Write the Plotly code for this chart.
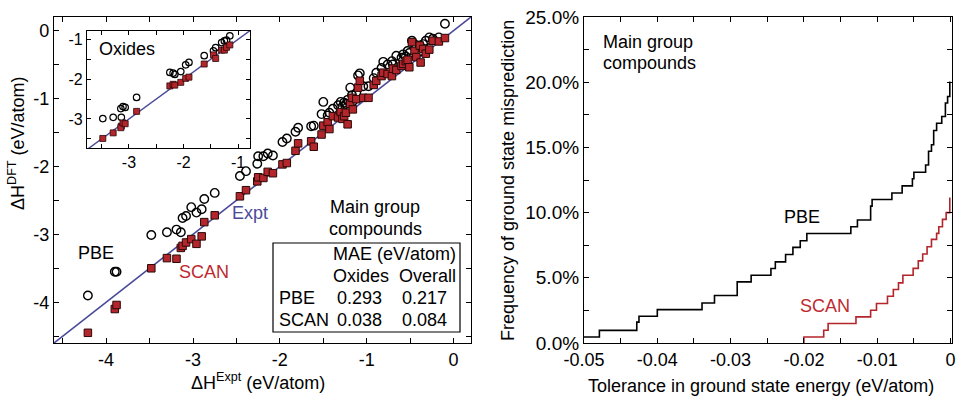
import plotly.graph_objects as go

# ---------------- data ----------------
# Main group compounds: experimental vs DFT formation enthalpy (eV/atom)
expt = [-4.21, -3.90, -3.88, -3.48, -3.30, -3.19, -3.14, -3.12, -3.08, -3.02,
        -2.96, -2.90, -2.87, -2.75, -2.46, -2.39, -2.26, -2.25, -2.19, -2.14,
        -2.08, -1.97, -1.92, -1.82, -1.79, -1.64, -1.61, -1.52, -1.50, -1.45,
        -1.43, -1.39, -1.33, -1.30, -1.28, -1.26, -1.24, -1.22, -1.19, -1.17,
        -1.16, -1.12, -1.10, -1.08, -1.04, -0.98, -0.92, -0.89, -0.83, -0.81,
        -0.76, -0.71, -0.70, -0.66, -0.60, -0.58, -0.55, -0.53, -0.51, -0.48,
        -0.45, -0.43, -0.39, -0.38, -0.35, -0.32, -0.28, -0.24, -0.17, -0.10]
pbe = [-3.90, -3.55, -3.55, -3.01, -2.97, -2.93, -2.97, -2.76, -2.73, -2.60,
       -2.68, -2.63, -2.48, -2.39, -2.14, -2.07, -1.96, -1.85, -1.85, -1.81,
       -1.84, -1.64, -1.59, -1.49, -1.43, -1.41, -1.40, -1.23, -1.05, -1.25,
       -1.21, -1.15, -1.10, -1.05, -1.12, -1.06, -1.08, -1.02, -0.84, -0.95,
       -1.04, -0.92, -0.66, -0.63, -0.82, -0.82, -0.70, -0.62, -0.55, -0.46,
       -0.50, -0.45, -0.50, -0.37, -0.40, -0.35, -0.38, -0.30, -0.33, -0.15,
       -0.20, -0.25, -0.22, -0.30, -0.20, -0.15, -0.10, -0.12, -0.10, 0.10]
scan = [-4.45, -4.10, -4.04, -3.50, -3.35, -3.36, -3.20, -3.17, -3.12, -3.07,
        -3.14, -3.03, -2.82, -2.72, -2.44, -2.35, -2.22, -2.16, -2.17, -2.08,
        -2.10, -1.97, -1.95, -1.77, -1.66, -1.63, -1.71, -1.53, -1.40, -1.35,
        -1.45, -1.26, -1.28, -1.20, -1.30, -1.26, -1.21, -1.38, -1.08, -0.99,
        -1.16, -1.01, -0.84, -0.74, -0.99, -0.99, -0.80, -0.74, -0.67, -0.62,
        -0.64, -0.67, -0.56, -0.58, -0.52, -0.49, -0.45, -0.43, -0.54, -0.17,
        -0.30, -0.39, -0.22, -0.47, -0.27, -0.34, -0.28, -0.15, -0.16, -0.11]

# Oxides (inset)
ox_expt = [-3.48, -3.29, -3.14, -3.15, -3.11, -3.07, -2.86, -2.25, -2.19, -2.16,
           -2.05, -1.96, -1.90, -1.62, -1.45, -1.41, -1.30, -1.25, -1.21, -1.15]
ox_pbe = [-2.99, -2.96, -2.96, -2.74, -2.69, -2.71, -2.46, -1.83, -1.85, -1.88,
          -1.81, -1.64, -1.58, -1.41, -1.29, -1.21, -1.08, -1.04, -1.02, -0.91]
ox_scan = [-3.49, -3.35, -3.18, -3.22, -3.10, -3.12, -2.81, -2.17, -2.13, -2.15,
           -2.08, -1.98, -1.95, -1.62, -1.39, -1.48, -1.27, -1.27, -1.20, -1.14]

# Expt parity line (y = x)
parity = [-5.0, 1.0]

# MAE table
mae_methods = ["PBE", "SCAN"]
mae_oxides = ["0.293", "0.038"]
mae_overall = ["0.217", "0.084"]

# Ground state misprediction frequency (%) vs tolerance (eV/atom)
pbe_tol = [-0.0500, -0.0479, -0.0428, -0.0425, -0.0400, -0.0339, -0.0322, -0.0291,
           -0.0272, -0.0245, -0.0239, -0.0225, -0.0215, -0.0205, -0.0196, -0.0136,
           -0.0127, -0.0109, -0.0107, -0.0080, -0.0066, -0.0052, -0.0050, -0.0034,
           -0.0030, -0.0026, -0.0023, -0.0019, -0.0012, -0.0007, -0.0004, -0.0001, 0.0]
pbe_freq = [0.46, 0.97, 1.6, 2.05, 2.56, 3.07, 3.64, 4.69,
            5.2, 5.71, 6.22, 6.79, 7.33, 7.84, 8.40, 8.91,
            9.43, 10.5, 11.0, 11.5, 12.05, 12.6, 13.1, 13.65,
            14.7, 15.2, 16.3, 16.85, 17.37, 18.4, 18.9, 20.0, 20.0]
scan_tol = [-0.0200, -0.0200, -0.0173, -0.0167, -0.0129, -0.0109, -0.0101, -0.0086,
            -0.0078, -0.0071, -0.0065, -0.0051, -0.0044, -0.0038, -0.0032, -0.0026,
            -0.0019, -0.0016, -0.0011, -0.0006, -0.0001, 0.0]
scan_freq = [0.0, 0.46, 0.98, 1.49, 2.0, 2.51, 3.03, 3.59,
             4.10, 4.61, 5.20, 5.72, 6.30, 6.82, 7.38, 7.95,
             8.41, 8.92, 9.48, 10.0, 11.1, 11.1]

# tick labels (major) and minor tick positions
main_tickvals = [-4, -3, -2, -1, 0]
main_ticktext = ["-4", "-3", "-2", "-1", "0"]
main_minor = [-4.5, -3.5, -2.5, -1.5, -0.5]
inset_tickvals = [-3, -2, -1]
inset_ticktext = ["-3", "-2", "-1"]
inset_minor = [-3.5, -2.5, -1.5]
tol_tickvals = [-0.05, -0.04, -0.03, -0.02, -0.01, 0.0]
tol_ticktext = ["-0.05", "-0.04", "-0.03", "-0.02", "-0.01", "0"]
tol_minor = [-0.045, -0.035, -0.025, -0.015, -0.005]
freq_tickvals = [0, 5, 10, 15, 20, 25]
freq_ticktext = ["0.0%", "5.0%", "10.0%", "15.0%", "20.0%", "25.0%"]
freq_minor = [2.5, 7.5, 12.5, 17.5, 22.5]

# ---------------- style ----------------
FONT = "Arial, Liberation Sans, sans-serif"
RED = "#B3262B"
TEXT_RED = "#BE2A30"
BLUE = "#4A4A9A"
W, H = 966, 400


def px(xp):
    return xp / W


def py(yp):
    return 1 - yp / H


fig = go.Figure()

# main panel
fig.add_trace(go.Scatter(x=parity, y=parity, mode="lines", line=dict(color=BLUE, width=1.6),
                         xaxis="x", yaxis="y"))
fig.add_trace(go.Scatter(x=expt, y=pbe, mode="markers",
                         marker=dict(symbol="circle-open", size=8.5, color="black", line=dict(width=1.4)),
                         xaxis="x", yaxis="y"))
fig.add_trace(go.Scatter(x=expt, y=scan, mode="markers",
                         marker=dict(symbol="square", size=7.5, color=RED,
                                     line=dict(color="#2a0808", width=1)),
                         xaxis="x", yaxis="y"))
# inset
fig.add_trace(go.Scatter(x=parity, y=parity, mode="lines", line=dict(color=BLUE, width=1.4),
                         xaxis="x3", yaxis="y3"))
fig.add_trace(go.Scatter(x=ox_expt, y=ox_pbe, mode="markers",
                         marker=dict(symbol="circle-open", size=6.5, color="black", line=dict(width=1.2)),
                         xaxis="x3", yaxis="y3"))
fig.add_trace(go.Scatter(x=ox_expt, y=ox_scan, mode="markers",
                         marker=dict(symbol="square", size=6, color=RED,
                                     line=dict(color="#2a0808", width=0.8)),
                         xaxis="x3", yaxis="y3"))
# right panel
fig.add_trace(go.Scatter(x=pbe_tol, y=pbe_freq, mode="lines", line_shape="hv",
                         line=dict(color="black", width=1.6), xaxis="x2", yaxis="y2"))
fig.add_trace(go.Scatter(x=scan_tol, y=scan_freq, mode="lines", line_shape="hv",
                         line=dict(color=RED, width=1.6), xaxis="x2", yaxis="y2"))


def axis(domain, rng, anchor, vals, text, minor_vals, size=18, tlen=5):
    return dict(domain=domain, range=rng, anchor=anchor,
                tickmode="array", tickvals=vals, ticktext=text,
                minor=dict(tickmode="array", tickvals=minor_vals, ticks="inside",
                           ticklen=tlen, tickwidth=1, tickcolor="black", showgrid=False),
                showline=True, mirror="allticks", linecolor="black", linewidth=1.2,
                ticks="inside", ticklen=tlen, tickwidth=1, tickcolor="black",
                showgrid=False, zeroline=False, automargin=False,
                tickfont=dict(family=FONT, size=size, color="black"))


fig.update_layout(
    width=W, height=H,
    margin=dict(l=0, r=0, t=0, b=0, pad=0),
    paper_bgcolor="white", plot_bgcolor="white",
    showlegend=False,
    font=dict(family=FONT, size=18, color="black"),
    xaxis=axis([px(54), px(471)], [-4.6, 0.2], "y", main_tickvals, main_ticktext, main_minor),
    yaxis=axis([py(343), py(17)], [-4.6, 0.2], "x", main_tickvals, main_ticktext, main_minor),
    xaxis2=axis([px(584), px(952)], [-0.05, 0.0002], "y2", tol_tickvals, tol_ticktext, tol_minor),
    yaxis2=axis([py(343), py(17)], [0, 25], "x2", freq_tickvals, freq_ticktext, freq_minor, size=19),
    xaxis3=axis([px(87), px(250)], [-3.77, -0.78], "y3", inset_tickvals, inset_ticktext,
                inset_minor, size=16, tlen=4),
    yaxis3=axis([py(148), py(31)], [-3.73, -0.79], "x3", inset_tickvals, inset_ticktext,
                inset_minor, size=16, tlen=4),
)

# MAE table box
fig.add_shape(type="rect", xref="paper", yref="paper",
              x0=px(273), x1=px(460), y0=py(332), y1=py(243),
              line=dict(color="black", width=1.2), fillcolor="rgba(0,0,0,0)")


def ann(text, x, y, color="black", size=18, xanchor="center", angle=0):
    fig.add_annotation(text=text, x=px(x), y=py(y), xref="paper", yref="paper",
                       showarrow=False, xanchor=xanchor, yanchor="middle",
                       textangle=angle, font=dict(family=FONT, size=size, color=color))


# axis titles
ann("ΔH<sup>DFT</sup> (eV/atom)", 17, 143, angle=-90)
ann("ΔH<sup>Expt</sup> (eV/atom)", 258, 381)
ann("Frequency of ground state misprediction", 508, 180, angle=-90)
ann("Tolerance in ground state energy (eV/atom)", 761, 386)

# left panel labels
ann("Oxides", 127, 49)
ann("PBE", 96, 253)
ann("SCAN", 204, 272, color=TEXT_RED)
ann("Expt", 250, 213, color=BLUE)
ann("Main group", 375, 207)
ann("compounds", 375, 229)
ann("MAE (eV/atom)", 394, 254)
ann("Oxides", 361, 276)
ann("Overall", 427, 276)
for i, (m, o, a) in enumerate(zip(mae_methods, mae_oxides, mae_overall)):
    yy = 298 + 22 * i
    ann(m, 277, yy, xanchor="left")
    ann(o, 359, yy)
    ann(a, 424, yy)

# right panel labels
ann("Main group", 601, 42, xanchor="left")
ann("compounds", 601, 63, xanchor="left")
ann("PBE", 802, 217)
ann("SCAN", 825, 306, color=TEXT_RED)

fig.write_html("out.html", config={"displayModeBar": False},
               post_script="document.body.style.margin='0';document.body.style.overflow='hidden';")
